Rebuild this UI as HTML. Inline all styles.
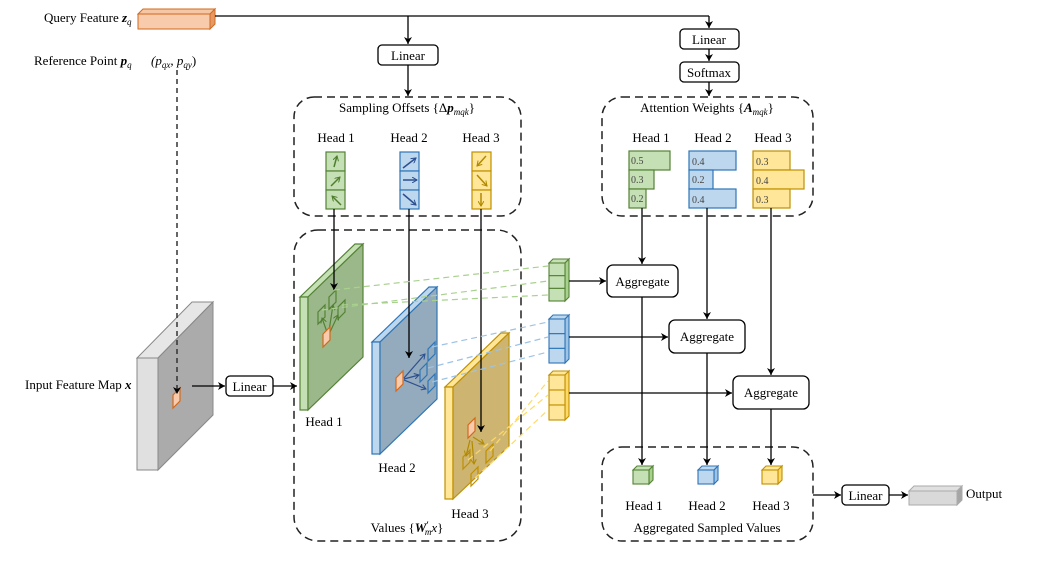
<!DOCTYPE html>
<html><head><meta charset="utf-8"><style>
html,body{margin:0;padding:0;background:#fff;}
svg{display:block;font-family:"Liberation Serif",serif;}
</style></head><body>
<svg width="1046" height="569" viewBox="0 0 1046 569" xmlns="http://www.w3.org/2000/svg">
<defs>
<marker id="a" markerWidth="8" markerHeight="8" refX="7" refY="4" orient="auto" markerUnits="userSpaceOnUse"><path d="M0,0 L7,4 L0,8 L2,4 Z" fill="#000"/></marker>
<marker id="ag" markerWidth="6" markerHeight="6" refX="5" refY="3" orient="auto" markerUnits="userSpaceOnUse"><path d="M0,0 L5,3 L0,6" fill="none" stroke="#4f7f2e" stroke-width="1"/></marker>
<marker id="ab" markerWidth="6" markerHeight="6" refX="5" refY="3" orient="auto" markerUnits="userSpaceOnUse"><path d="M0,0 L5,3 L0,6" fill="none" stroke="#2c4f8f" stroke-width="1"/></marker>
<marker id="ay" markerWidth="6" markerHeight="6" refX="5" refY="3" orient="auto" markerUnits="userSpaceOnUse"><path d="M0,0 L5,3 L0,6" fill="none" stroke="#b08a00" stroke-width="1"/></marker>
</defs>
<g font-size="13" fill="#000">
<!-- Query feature -->
<text x="44" y="22">Query Feature <tspan font-weight="bold" font-style="italic">z</tspan><tspan font-style="italic" font-size="9" dy="3">q</tspan></text>
<polygon points="138,14 143,9 215,9 210,14" fill="#f6c7a4" stroke="#d2691e" stroke-width="1"/>
<polygon points="210,14 215,9 215,24 210,29" fill="#e59a66" stroke="#d2691e" stroke-width="1"/>
<rect x="138" y="14" width="72" height="15" fill="#f8cbad" stroke="#d2691e" stroke-width="1"/>
<path d="M215,16 H709" stroke="#000" stroke-width="1.3" fill="none"/>
<path d="M408,16 V44" stroke="#000" stroke-width="1.3" marker-end="url(#a)"/>
<path d="M709,16 V28" stroke="#000" stroke-width="1.3" marker-end="url(#a)"/>
<rect x="378" y="45" width="60" height="20" rx="4" fill="#fff" stroke="#000" stroke-width="1.3"/>
<text x="408" y="60" text-anchor="middle">Linear</text>
<path d="M408,65 V96" stroke="#000" stroke-width="1.3" marker-end="url(#a)"/>
<rect x="680" y="29" width="59" height="20" rx="4" fill="#fff" stroke="#000" stroke-width="1.3"/>
<text x="709" y="44" text-anchor="middle">Linear</text>
<path d="M709,49 V61" stroke="#000" stroke-width="1.3" marker-end="url(#a)"/>
<rect x="680" y="62" width="59" height="20" rx="4" fill="#fff" stroke="#000" stroke-width="1.3"/>
<text x="709" y="77" text-anchor="middle">Softmax</text>
<path d="M709,82 V96" stroke="#000" stroke-width="1.3" marker-end="url(#a)"/>

<!-- Reference point -->
<text x="34" y="65">Reference Point <tspan font-weight="bold" font-style="italic">p</tspan><tspan font-style="italic" font-size="9" dy="3">q</tspan></text>
<text x="151" y="65" font-style="italic">(p<tspan font-size="9" dy="3">qx</tspan><tspan dy="-3">, p</tspan><tspan font-size="9" dy="3">qy</tspan><tspan dy="-3" font-style="normal">)</tspan></text>

<!-- Dashed boxes -->
<g fill="none" stroke="#222" stroke-width="1.5" stroke-dasharray="8,5">
<rect x="294" y="97" width="227" height="119" rx="20"/>
<rect x="602" y="97" width="211" height="119" rx="20"/>
<rect x="294" y="230" width="227" height="311" rx="24"/>
<rect x="602" y="447" width="211" height="94" rx="20"/>
</g>
<text x="407" y="112" text-anchor="middle">Sampling Offsets {Δ<tspan font-weight="bold" font-style="italic">p</tspan><tspan font-style="italic" font-size="9" dy="3">mqk</tspan><tspan dy="-3">}</tspan></text>
<text x="707" y="112" text-anchor="middle">Attention Weights {<tspan font-weight="bold" font-style="italic">A</tspan><tspan font-style="italic" font-size="9" dy="3">mqk</tspan><tspan dy="-3">}</tspan></text>
<text x="336" y="142" text-anchor="middle">Head 1</text>
<text x="409" y="142" text-anchor="middle">Head 2</text>
<text x="481" y="142" text-anchor="middle">Head 3</text>
<text x="651" y="142" text-anchor="middle">Head 1</text>
<text x="713" y="142" text-anchor="middle">Head 2</text>
<text x="773" y="142" text-anchor="middle">Head 3</text>

<!-- offset columns -->
<g stroke-width="1.2">
<rect x="326" y="152" width="19" height="19" fill="#c5e0b4" stroke="#548235"/>
<rect x="326" y="171" width="19" height="19" fill="#c5e0b4" stroke="#548235"/>
<rect x="326" y="190" width="19" height="19" fill="#c5e0b4" stroke="#548235"/>
<rect x="400" y="152" width="19" height="19" fill="#bdd7ee" stroke="#2e75b6"/>
<rect x="400" y="171" width="19" height="19" fill="#bdd7ee" stroke="#2e75b6"/>
<rect x="400" y="190" width="19" height="19" fill="#bdd7ee" stroke="#2e75b6"/>
<rect x="472" y="152" width="19" height="19" fill="#ffe699" stroke="#bf9000"/>
<rect x="472" y="171" width="19" height="19" fill="#ffe699" stroke="#bf9000"/>
<rect x="472" y="190" width="19" height="19" fill="#ffe699" stroke="#bf9000"/>
</g>
<g stroke-width="1.5" fill="none">
<path d="M334,167 L337,156" stroke="#4f7f2e" marker-end="url(#ag)"/>
<path d="M331,186 L340,177" stroke="#4f7f2e" marker-end="url(#ag)"/>
<path d="M341,205 L332,196" stroke="#4f7f2e" marker-end="url(#ag)"/>
<path d="M403,168 L416,158" stroke="#2c4f8f" marker-end="url(#ab)"/>
<path d="M403,180 L417,180" stroke="#2c4f8f" marker-end="url(#ab)"/>
<path d="M403,194 L416,205" stroke="#2c4f8f" marker-end="url(#ab)"/>
<path d="M486,156 L477,166" stroke="#b08a00" marker-end="url(#ay)"/>
<path d="M477,175 L487,186" stroke="#b08a00" marker-end="url(#ay)"/>
<path d="M481,193 L481,206" stroke="#b08a00" marker-end="url(#ay)"/>
</g>

<!-- attention bars -->
<g stroke-width="1.2" font-size="10" fill="#444">
<rect x="629" y="151" width="41" height="19" fill="#c5e0b4" stroke="#548235"/>
<rect x="629" y="170" width="25" height="19" fill="#c5e0b4" stroke="#548235"/>
<rect x="629" y="189" width="17" height="19" fill="#c5e0b4" stroke="#548235"/>
<rect x="689" y="151" width="47" height="19" fill="#bdd7ee" stroke="#2e75b6"/>
<rect x="689" y="170" width="24" height="19" fill="#bdd7ee" stroke="#2e75b6"/>
<rect x="689" y="189" width="47" height="19" fill="#bdd7ee" stroke="#2e75b6"/>
<rect x="753" y="151" width="37" height="19" fill="#ffe699" stroke="#bf9000"/>
<rect x="753" y="170" width="51" height="19" fill="#ffe699" stroke="#bf9000"/>
<rect x="753" y="189" width="37" height="19" fill="#ffe699" stroke="#bf9000"/>
<text x="631" y="164">0.5</text><text x="631" y="183">0.3</text><text x="631" y="202">0.2</text>
<text x="692" y="165">0.4</text><text x="692" y="183">0.2</text><text x="692" y="203">0.4</text>
<text x="756" y="165">0.3</text><text x="756" y="184">0.4</text><text x="756" y="203">0.3</text>
</g>

<!-- input feature map -->
<text x="25" y="389">Input Feature Map <tspan font-weight="bold" font-style="italic">x</tspan></text>
<polygon points="137,358 158,358 213,302 192,302" fill="#e6e6e6" stroke="#888" stroke-width="1"/>
<rect x="137" y="358" width="21" height="112" fill="#e0e0e0" stroke="#888" stroke-width="1"/>
<polygon points="158,358 213,302 213,415 158,470" fill="#ababab" stroke="#888" stroke-width="1"/>
<polygon points="173,395 180,388 180,401 173,408" fill="#f8cbad" stroke="#d2691e" stroke-width="1.2"/>
<path d="M177,70 V394" stroke="#333" stroke-width="1.5" stroke-dasharray="5,4" fill="none" marker-end="url(#a)"/>
<path d="M192,386 H225" stroke="#000" stroke-width="1.3" marker-end="url(#a)"/>
<rect x="226" y="376" width="47" height="20" rx="4" fill="#fff" stroke="#000" stroke-width="1.3"/>
<text x="249.5" y="391" text-anchor="middle">Linear</text>
<path d="M273,386 H297" stroke="#000" stroke-width="1.3" marker-end="url(#a)"/>

<!-- green plane -->
<polygon points="300,297 308,297 363,244 355,244" fill="#c5e0b4" stroke="#548235" stroke-width="1.2"/>
<rect x="300" y="297" width="8" height="113" fill="#c5e0b4" stroke="#548235" stroke-width="1.2"/>
<polygon points="308,297 363,244 363,357 308,410" fill="#9bb88a" stroke="#548235" stroke-width="1.2"/>
<!-- blue plane -->
<polygon points="372,342 380,342 437,287 429,287" fill="#bdd7ee" stroke="#2e75b6" stroke-width="1.2"/>
<rect x="372" y="342" width="8" height="112" fill="#bdd7ee" stroke="#2e75b6" stroke-width="1.2"/>
<polygon points="380,342 437,287 437,399 380,454" fill="#94aabd" stroke="#2e75b6" stroke-width="1.2"/>
<!-- yellow plane -->
<polygon points="445,387 453,387 509,333 501,333" fill="#ffe699" stroke="#bf9000" stroke-width="1.2"/>
<rect x="445" y="387" width="8" height="112" fill="#ffe699" stroke="#bf9000" stroke-width="1.2"/>
<polygon points="453,387 509,333 509,446 453,499" fill="#cdb571" stroke="#bf9000" stroke-width="1.2"/>

<!-- sampling in planes -->
<g fill="none" stroke-width="1.2">
<g stroke="#548235"><path d="M329,297 l7,-7 v12 l-7,7z M318,312 l7,-7 v12 l-7,7z M338,307 l7,-7 v12 l-7,7z"/></g>
<path d="M327,332 L322,318" stroke="#548235" marker-end="url(#ag)"/>
<path d="M329,331 L333,305" stroke="#548235" marker-end="url(#ag)"/>
<path d="M330,332 L338,315" stroke="#548235" marker-end="url(#ag)"/>
<g stroke="#2e75b6"><path d="M428,349 l7,-7 v12 l-7,7z M420,370 l7,-7 v12 l-7,7z M428,381 l7,-7 v12 l-7,7z"/></g>
<path d="M404,378 L425,354" stroke="#2c4f8f" marker-end="url(#ab)"/>
<path d="M404,379 L419,375" stroke="#2c4f8f" marker-end="url(#ab)"/>
<path d="M404,380 L426,389" stroke="#2c4f8f" marker-end="url(#ab)"/>
<g stroke="#bf9000"><path d="M486,451 l7,-7 v12 l-7,7z M463,457 l7,-7 v12 l-7,7z M471,474 l7,-7 v12 l-7,7z"/></g>
<path d="M473,437 L484,444" stroke="#b08a00" marker-end="url(#ay)"/>
<path d="M470,440 L466,456" stroke="#b08a00" marker-end="url(#ay)"/>
<path d="M472,441 L474,464" stroke="#b08a00" marker-end="url(#ay)"/>
</g>
<polygon points="323,334 330,327 330,340 323,347" fill="#f8cbad" stroke="#d2691e" stroke-width="1.2"/>
<polygon points="396,378 403,371 403,384 396,391" fill="#f8cbad" stroke="#d2691e" stroke-width="1.2"/>
<polygon points="468,425 475,418 475,431 468,438" fill="#f8cbad" stroke="#d2691e" stroke-width="1.2"/>

<!-- offset arrows down -->
<path d="M334,209 V290" stroke="#000" stroke-width="1.3" marker-end="url(#a)"/>
<path d="M409,209 V358" stroke="#000" stroke-width="1.3" marker-end="url(#a)"/>
<path d="M481,209 V432" stroke="#000" stroke-width="1.3" marker-end="url(#a)"/>

<!-- dashed colored lines -->
<g stroke-width="1.2" stroke-dasharray="6,4" fill="none">
<g stroke="#a9d18e"><path d="M334,290 L548,266 M322,310 L548,281 M342,305 L548,295"/></g>
<g stroke="#9dc3e6"><path d="M432,347 L548,322 M428,368 L548,337 M432,382 L548,352"/></g>
<g stroke="#ffd966"><path d="M490,451 L548,381 M468,460 L548,395 M475,478 L548,410"/></g>
</g>

<text x="324" y="426" text-anchor="middle">Head 1</text>
<text x="397" y="472" text-anchor="middle">Head 2</text>
<text x="470" y="518" text-anchor="middle">Head 3</text>
<text x="407" y="532" text-anchor="middle">Values {<tspan font-weight="bold" font-style="italic">W</tspan><tspan font-weight="bold" font-size="9" dy="-4">′</tspan><tspan font-style="italic" font-size="9" dy="7" dx="-4">m</tspan><tspan font-style="italic" dy="-3">x</tspan>}</text>

<!-- cube columns -->
<g stroke-width="1.1">
<g fill="#c5e0b4" stroke="#548235"><polygon points="549,263 553,259 569,259 565,263"/><polygon points="565,263 569,259 569,297 565,301" fill="#a9d18e"/><rect x="549" y="263" width="16" height="12.7"/><rect x="549" y="275.7" width="16" height="12.7"/><rect x="549" y="288.4" width="16" height="12.6"/></g>
<g fill="#bdd7ee" stroke="#2e75b6"><polygon points="549,319 553,315 569,315 565,319"/><polygon points="565,319 569,315 569,359 565,363" fill="#9dc3e6"/><rect x="549" y="319" width="16" height="14.7"/><rect x="549" y="333.7" width="16" height="14.7"/><rect x="549" y="348.4" width="16" height="14.6"/></g>
<g fill="#ffe699" stroke="#bf9000"><polygon points="549,375 553,371 569,371 565,375"/><polygon points="565,375 569,371 569,416 565,420" fill="#ffd966"/><rect x="549" y="375" width="16" height="15"/><rect x="549" y="390" width="16" height="15"/><rect x="549" y="405" width="16" height="15"/></g>
</g>
<path d="M569,281 H606" stroke="#000" stroke-width="1.3" marker-end="url(#a)"/>
<path d="M569,337 H668" stroke="#000" stroke-width="1.3" marker-end="url(#a)"/>
<path d="M569,393 H732" stroke="#000" stroke-width="1.3" marker-end="url(#a)"/>

<!-- vertical lines -->
<path d="M642,208 V264" stroke="#000" stroke-width="1.3" marker-end="url(#a)"/>
<path d="M707,208 V319" stroke="#000" stroke-width="1.3" marker-end="url(#a)"/>
<path d="M771,208 V375" stroke="#000" stroke-width="1.3" marker-end="url(#a)"/>
<path d="M642,297 V465" stroke="#000" stroke-width="1.3" marker-end="url(#a)"/>
<path d="M707,353 V465" stroke="#000" stroke-width="1.3" marker-end="url(#a)"/>
<path d="M771,409 V465" stroke="#000" stroke-width="1.3" marker-end="url(#a)"/>

<rect x="607" y="265" width="71" height="32" rx="6" fill="#fff" stroke="#000" stroke-width="1.3"/>
<text x="642.5" y="286" text-anchor="middle">Aggregate</text>
<rect x="669" y="320" width="76" height="33" rx="6" fill="#fff" stroke="#000" stroke-width="1.3"/>
<text x="707" y="341" text-anchor="middle">Aggregate</text>
<rect x="733" y="376" width="76" height="33" rx="6" fill="#fff" stroke="#000" stroke-width="1.3"/>
<text x="771" y="397" text-anchor="middle">Aggregate</text>

<!-- aggregated cubes -->
<g stroke-width="1.1">
<g fill="#c5e0b4" stroke="#548235"><polygon points="633,470 637,466 653,466 649,470"/><polygon points="649,470 653,466 653,480 649,484" fill="#a9d18e"/><rect x="633" y="470" width="16" height="14"/></g>
<g fill="#bdd7ee" stroke="#2e75b6"><polygon points="698,470 702,466 718,466 714,470"/><polygon points="714,470 718,466 718,480 714,484" fill="#9dc3e6"/><rect x="698" y="470" width="16" height="14"/></g>
<g fill="#ffe699" stroke="#bf9000"><polygon points="762,470 766,466 782,466 778,470"/><polygon points="778,470 782,466 782,480 778,484" fill="#ffd966"/><rect x="762" y="470" width="16" height="14"/></g>
</g>
<text x="644" y="510" text-anchor="middle">Head 1</text>
<text x="707" y="510" text-anchor="middle">Head 2</text>
<text x="771" y="510" text-anchor="middle">Head 3</text>
<text x="707" y="532" text-anchor="middle">Aggregated Sampled Values</text>

<path d="M813,495 H841" stroke="#000" stroke-width="1.3" marker-end="url(#a)"/>
<rect x="842" y="485" width="47" height="20" rx="4" fill="#fff" stroke="#000" stroke-width="1.3"/>
<text x="865.5" y="500" text-anchor="middle">Linear</text>
<path d="M889,495 H908" stroke="#000" stroke-width="1.3" marker-end="url(#a)"/>
<polygon points="909,491 914,486 962,486 957,491" fill="#e0e0e0" stroke="#aaa"/>
<polygon points="957,491 962,486 962,500 957,505" fill="#a6a6a6" stroke="#aaa"/>
<rect x="909" y="491" width="48" height="14" fill="#d9d9d9" stroke="#aaa"/>
<text x="966" y="498">Output</text>
</g>
</svg>
</body></html>
